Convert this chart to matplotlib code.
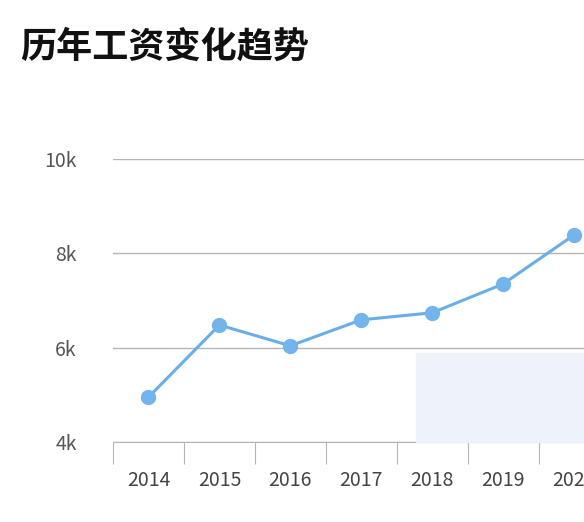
import matplotlib.pyplot as plt
from matplotlib.patches import Rectangle

plt.rcParams['font.family'] = ['Noto Sans CJK SC', 'DejaVu Sans']

years = ['2014', '2015', '2016', '2017', '2018', '2019', '2020']
salary = [4950, 6480, 6040, 6590, 6740, 7350, 8390]
yticks = [4000, 6000, 8000, 10000]
ylabels = ['4k', '6k', '8k', '10k']

fig = plt.figure(figsize=(5.84, 5.22), dpi=100)
ax = fig.add_axes([113 / 584, 1 - 442 / 522, 1 - 113 / 584, (442 - 159) / 522])

x = list(range(len(years)))
ax.plot(x, salary, color='#6aaee8', lw=2.2, marker='o', ms=10,
        markerfacecolor='#74b4ec', markeredgecolor='#74b4ec', clip_on=False, zorder=3)

ax.set_yticks(yticks)
ax.set_yticklabels(ylabels)
ax.yaxis.grid(True, color='#b5b5b5', lw=1)
ax.tick_params(axis='y', length=0, pad=26, labelsize=14, labelcolor='#555555')

ax.set_xticks([i + 0.5 for i in range(-1, 7)], minor=False)
ax.set_xticklabels([])
ax.set_xticks(x, minor=True)
ax.set_xticklabels(years, minor=True)
ax.tick_params(axis='x', which='major', length=16, color='#b5b5b5', direction='out')
ax.tick_params(axis='x', which='minor', length=0, pad=20, labelsize=14, labelcolor='#444444')
ax.set_ylim(4000, 10000)
ax.set_xlim(-0.5, 6.14)

for s in ['top', 'right', 'left']:
    ax.spines[s].set_visible(False)
ax.spines['bottom'].set_color('#b5b5b5')
ax.set_axisbelow(True)

fig.patches.append(Rectangle((416 / 584, 1 - 442 / 522), 168 / 584, 89 / 522,
                             transform=fig.transFigure, color='#eef3fa', zorder=5))

fig.text(20 / 584, 1 - 47 / 522, '历年工资变化趋势', fontsize=26, fontweight='bold',
         va='center', ha='left', color='#111111')
fig.text(575 / 584, 1 - 502 / 522, '头条 @中大网校', fontsize=10, color='#ffffff',
         ha='right', va='center', zorder=6)

fig.savefig('out.png', dpi=100)
